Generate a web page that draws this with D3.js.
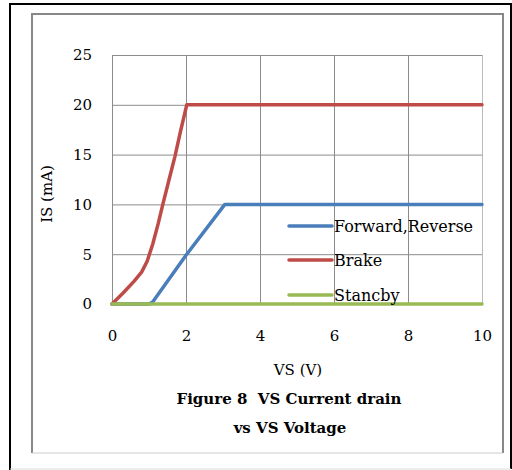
<!DOCTYPE html>
<html><head><meta charset="utf-8">
<script src="https://cdn.jsdelivr.net/npm/d3@7"></script>
<style>body{margin:0;background:#fff}svg{display:block}</style>
</head><body>
<script>
const xTicks = [0, 2, 4, 6, 8, 10];
const yTicks = [0, 5, 10, 15, 20, 25];
const seriesNames = ["Forward,Reverse", "Brake", "Stancby"];
const seriesColors = ["#4a7ebb", "#be4b48", "#98b954"];
const forwardX = [0, 1, 1.1, 2, 3.05, 10];
const forwardY = [0, 0, 0.2, 4.9, 10, 10];
const brakeX = [0, 0.3, 0.6, 0.8, 0.95, 1.1, 1.25, 1.38, 1.55, 1.7, 1.85, 2.02, 10];
const brakeY = [0, 1.1, 2.3, 3.2, 4.3, 6.0, 8.1, 10.1, 12.6, 14.8, 17.3, 20, 20];
const standbyX = [0, 10];
const standbyY = [0, 0];

const W = 512, H = 470;
const svg = d3.select("body").append("svg").attr("width", W).attr("height", H);
const serif = "'DejaVu Serif', 'Liberation Serif', serif";

// frames
svg.append("line").attr("x1",10).attr("y1",4).attr("x2",10).attr("y2",470).attr("stroke","#000").attr("stroke-width",2);
svg.append("line").attr("x1",9).attr("y1",4).attr("x2",512).attr("y2",4).attr("stroke","#000").attr("stroke-width",2);
svg.append("line").attr("x1",511).attr("y1",3).attr("x2",511).attr("y2",469).attr("stroke","#000").attr("stroke-width",2);
svg.append("line").attr("x1",10).attr("y1",469).attr("x2",511).attr("y2",469).attr("stroke","#ddd").attr("stroke-width",1);
svg.append("path").attr("d","M32,453 V14 H503 V453").attr("fill","none").attr("stroke","#888").attr("stroke-width",2);
svg.append("line").attr("x1",32).attr("y1",453).attr("x2",503).attr("y2",453).attr("stroke","#ccc").attr("stroke-width",1);

const x = d3.scaleLinear().domain([0, 10]).range([112, 482]);
const y = d3.scaleLinear().domain([0, 25]).range([304, 55]);

// grid
const g = svg.append("g");
g.selectAll(".gx").data(xTicks).join("line")
  .attr("x1", d => x(d) + 0.5).attr("x2", d => x(d) + 0.5)
  .attr("y1", y(25)).attr("y2", y(0))
  .attr("stroke", d => d === 10 ? "#bbb" : "#8c8c8c").attr("stroke-width", 1);
g.selectAll(".gy").data(yTicks).join("line")
  .attr("x1", x(0)).attr("x2", x(10))
  .attr("y1", d => y(d) + 0.5).attr("y2", d => y(d) + 0.5)
  .attr("stroke", "#8c8c8c").attr("stroke-width", 1);

// axes (labels only)
const yAxis = svg.append("g").attr("transform", "translate(92,0)")
  .call(d3.axisLeft(y).tickValues(yTicks).tickSize(0).tickPadding(0));
yAxis.select(".domain").remove();
yAxis.selectAll("text").attr("font-family", serif).attr("font-size", 15).attr("fill", "#000");

const xAxis = svg.append("g").attr("transform", "translate(0,330)")
  .call(d3.axisBottom(x).tickValues(xTicks).tickSize(0).tickPadding(0));
xAxis.select(".domain").remove();
xAxis.selectAll("text").attr("font-family", serif).attr("font-size", 15).attr("fill", "#000");

// series
const data = [
  forwardX.map((v, i) => [v, forwardY[i]]),
  brakeX.map((v, i) => [v, brakeY[i]]),
  standbyX.map((v, i) => [v, standbyY[i]])
];
const line = d3.line().x(d => x(d[0])).y(d => y(d[1]));
data.forEach((pts, i) => {
  svg.append("path").attr("d", line(pts)).attr("fill", "none")
    .attr("stroke", seriesColors[i]).attr("stroke-width", 3.5)
    .attr("stroke-linejoin", "round").attr("stroke-linecap", "round");
});

// legend
const legY = [226, 260, 295];
seriesNames.forEach((n, i) => {
  svg.append("line").attr("x1", 289).attr("x2", 332).attr("y1", legY[i]).attr("y2", legY[i])
    .attr("stroke", seriesColors[i]).attr("stroke-width", 3.5).attr("stroke-linecap", "round");
  svg.append("text").attr("x", 334).attr("y", legY[i]).attr("dy", "0.35em")
    .attr("font-family", serif).attr("font-size", 16).attr("fill", "#000").text(n);
});

// titles
svg.append("text").attr("x", 298).attr("y", 370).attr("dy", "0.35em").attr("text-anchor", "middle")
  .attr("font-family", serif).attr("font-size", 15).text("VS (V)");
svg.append("text").attr("transform", "translate(47,194) rotate(-90)").attr("dy", "0.35em").attr("text-anchor", "middle")
  .attr("font-family", serif).attr("font-size", 15).text("IS (mA)");
svg.append("text").attr("x", 289).attr("y", 399).attr("dy", "0.35em").attr("text-anchor", "middle")
  .style("white-space", "pre")
  .attr("font-family", serif).attr("font-size", 15).attr("font-weight", "bold").text("Figure 8  VS Current drain");
svg.append("text").attr("x", 290).attr("y", 428).attr("dy", "0.35em").attr("text-anchor", "middle")
  .attr("font-family", serif).attr("font-size", 15).attr("font-weight", "bold").text("vs VS Voltage");
</script>
</body></html>
